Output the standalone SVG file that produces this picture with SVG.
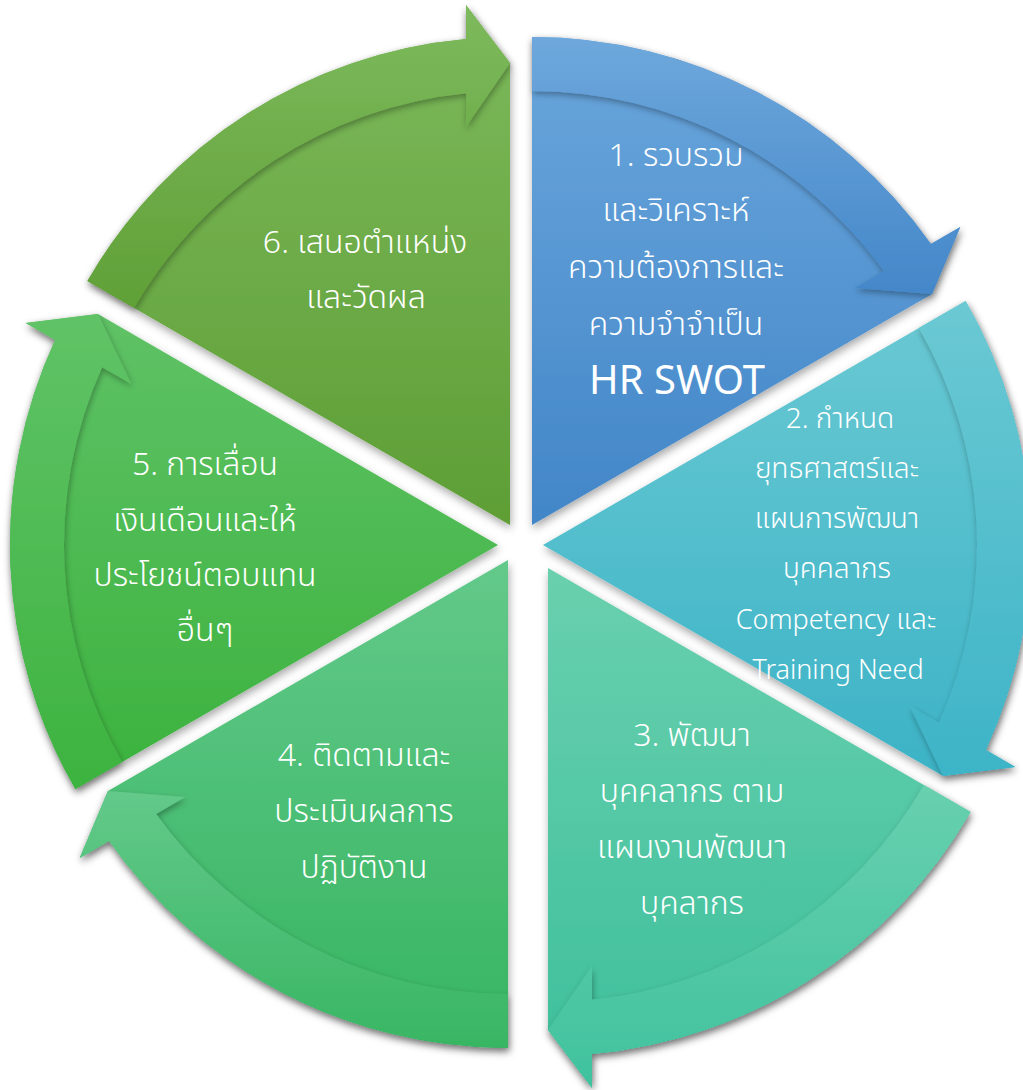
<svg xmlns="http://www.w3.org/2000/svg" width="1023" height="1090" viewBox="0 0 1023 1090">
<style>
.lbl{font-family:"Noto Sans Thai","Leelawadee UI","Open Sans","Noto Sans",sans-serif;fill:#ffffff;text-anchor:middle;font-size:32px;font-weight:300}
.sm{font-size:28px}
.lat{font-size:27px}
.tiny{font-size:28px}
.big{font-size:40px;font-weight:400}
.body{filter:url(#sh)}
.arr{filter:url(#ash)}
</style>
<defs>
<filter id="sh" x="-10%" y="-10%" width="120%" height="120%">
<feDropShadow dx="1" dy="4" stdDeviation="4" flood-color="#000" flood-opacity="0.35"/>
</filter>
<filter id="ash" x="-10%" y="-10%" width="120%" height="120%">
<feDropShadow dx="1" dy="3" stdDeviation="3" flood-color="#000" flood-opacity="0.32"/>
</filter>
<linearGradient id="g1" x1="0" y1="0" x2="0" y2="1"><stop offset="0" stop-color="#6aa6dc"/><stop offset="1" stop-color="#4286c8"/></linearGradient>
<linearGradient id="g1a" x1="0" y1="0" x2="0" y2="1"><stop offset="0" stop-color="#6ea8dc"/><stop offset="1" stop-color="#4487c9"/></linearGradient>
<linearGradient id="g2" x1="0" y1="0" x2="0" y2="1"><stop offset="0" stop-color="#6ac9d3"/><stop offset="1" stop-color="#3cb3c6"/></linearGradient>
<linearGradient id="g2a" x1="0" y1="0" x2="0" y2="1"><stop offset="0" stop-color="#6bc9d3"/><stop offset="1" stop-color="#3db4c7"/></linearGradient>
<linearGradient id="g3" x1="0" y1="0" x2="0" y2="1"><stop offset="0" stop-color="#6ad0ae"/><stop offset="1" stop-color="#3cbf9b"/></linearGradient>
<linearGradient id="g3a" x1="0" y1="0" x2="0" y2="1"><stop offset="0" stop-color="#68d0ae"/><stop offset="1" stop-color="#40c29e"/></linearGradient>
<linearGradient id="g4" x1="0" y1="0" x2="0" y2="1"><stop offset="0" stop-color="#63c98a"/><stop offset="1" stop-color="#36b561"/></linearGradient>
<linearGradient id="g4a" x1="0" y1="0" x2="0" y2="1"><stop offset="0" stop-color="#63c98a"/><stop offset="1" stop-color="#38b663"/></linearGradient>
<linearGradient id="g5" x1="0" y1="0" x2="0" y2="1"><stop offset="0" stop-color="#5fc266"/><stop offset="1" stop-color="#3bb23d"/></linearGradient>
<linearGradient id="g5a" x1="0" y1="0" x2="0" y2="1"><stop offset="0" stop-color="#60c367"/><stop offset="1" stop-color="#3db33f"/></linearGradient>
<linearGradient id="g6" x1="0" y1="0" x2="0" y2="1"><stop offset="0" stop-color="#7cb95b"/><stop offset="1" stop-color="#5e9e35"/></linearGradient>
<linearGradient id="g6a" x1="0" y1="0" x2="0" y2="1"><stop offset="0" stop-color="#7dba5d"/><stop offset="1" stop-color="#60a037"/></linearGradient>
</defs>
<g id="node6">
<path class="body" fill="url(#g6)" d="M510,525 L87.4,281 A488,488 0 0,1 466,39 L466,5 L510,63 Z"/>
<text class="lbl" x="365" y="253">6. เสนอตำแหน่ง</text>
<text class="lbl" x="366" y="308">และวัดผล</text>
</g>
<g id="node5">
<path class="body" fill="url(#g5)" d="M498,545 L75.4,789 A488,488 0 0,1 55.1,340.1 L25.7,323.1 L97.9,314 Z"/>
<text class="lbl" x="205" y="475">5. การเลื่อน</text>
<text class="lbl" x="205" y="531">เงินเดือนและให้</text>
<text class="lbl" x="205" y="586">ประโยชน์ตอบแทน</text>
<text class="lbl" x="205" y="641">อื่นๆ</text>
</g>
<g id="node4">
<path class="body" fill="url(#g4)" d="M508,560 L508,1048 A488,488 0 0,1 109.1,841.1 L79.7,858.1 L107.9,791 Z"/>
<text class="lbl" x="364" y="766">4. ติดตามและ</text>
<text class="lbl" x="364" y="822">ประเมินผลการ</text>
<text class="lbl" x="364" y="878">ปฏิบัติงาน</text>
</g>
<g id="node3">
<path class="body" fill="url(#g3)" d="M548,568 L970.6,812 A488,488 0 0,1 592,1054 L592,1088 L548,1030 Z"/>
<text class="lbl" x="692" y="746">3. พัฒนา</text>
<text class="lbl" x="692" y="802">บุคคลากร ตาม</text>
<text class="lbl" x="692" y="858">แผนงานพัฒนา</text>
<text class="lbl" x="692" y="914">บุคลากร</text>
</g>
<g id="node2">
<path class="body" fill="url(#g2)" d="M543,545 L965.6,301 A488,488 0 0,1 985.9,749.9 L1015.3,766.9 L943.1,776 Z"/>
<text class="lbl sm" x="840" y="428">2. กำหนด</text>
<text class="lbl sm" x="837" y="478">ยุทธศาสตร์และ</text>
<text class="lbl sm" x="837" y="528">แผนการพัฒนา</text>
<text class="lbl sm" x="837" y="578">บุคคลากร</text>
<text class="lbl lat" x="836" y="629">Competency <tspan class="tiny">และ</tspan></text>
<text class="lbl lat" x="838" y="679">Training Need</text>
</g>
<g id="node1">
<path class="body" fill="url(#g1)" d="M532,525 L532,37 A488,488 0 0,1 930.9,243.9 L960.3,226.9 L932.1,294 Z"/>
<text class="lbl" x="676" y="166">1. รวบรวม</text>
<text class="lbl" x="676" y="221">และวิเคราะห์</text>
<text class="lbl" x="676" y="278">ความต้องการและ</text>
<text class="lbl" x="676" y="335">ความจำจำเป็น</text>
<text class="lbl big" x="677" y="394">HR SWOT</text>
</g>
<g id="connectors">
<path class="arr" fill="url(#g1a)" d="M532,37 A488,488 0 0,1 930.9,243.9 L960.3,226.9 L932.1,294 L854.7,287.9 L883.9,271 A434,434 0 0,0 532,91 Z"/>
<path class="arr" fill="url(#g2a)" d="M965.6,301 A488,488 0 0,1 985.9,749.9 L1015.3,766.9 L943.1,776 L909.7,705.9 L938.9,722.8 A434,434 0 0,0 918.9,328 Z"/>
<path class="arr" fill="url(#g3a)" d="M970.6,812 A488,488 0 0,1 592,1054 L592,1088 L548,1030 L592,966 L592,999.8 A434,434 0 0,0 923.9,785 Z"/>
<path class="arr" fill="url(#g4a)" d="M508,1048 A488,488 0 0,1 109.1,841.1 L79.7,858.1 L107.9,791 L185.3,797.1 L156.1,814 A434,434 0 0,0 508,994 Z"/>
<path class="arr" fill="url(#g5a)" d="M75.4,789 A488,488 0 0,1 55.1,340.1 L25.7,323.1 L97.9,314 L131.3,384.1 L102.1,367.2 A434,434 0 0,0 122.1,762 Z"/>
<path class="arr" fill="url(#g6a)" d="M87.4,281 A488,488 0 0,1 466,39 L466,5 L510,63 L466,127 L466,93.2 A434,434 0 0,0 134.1,308 Z"/>
</g>
</svg>
